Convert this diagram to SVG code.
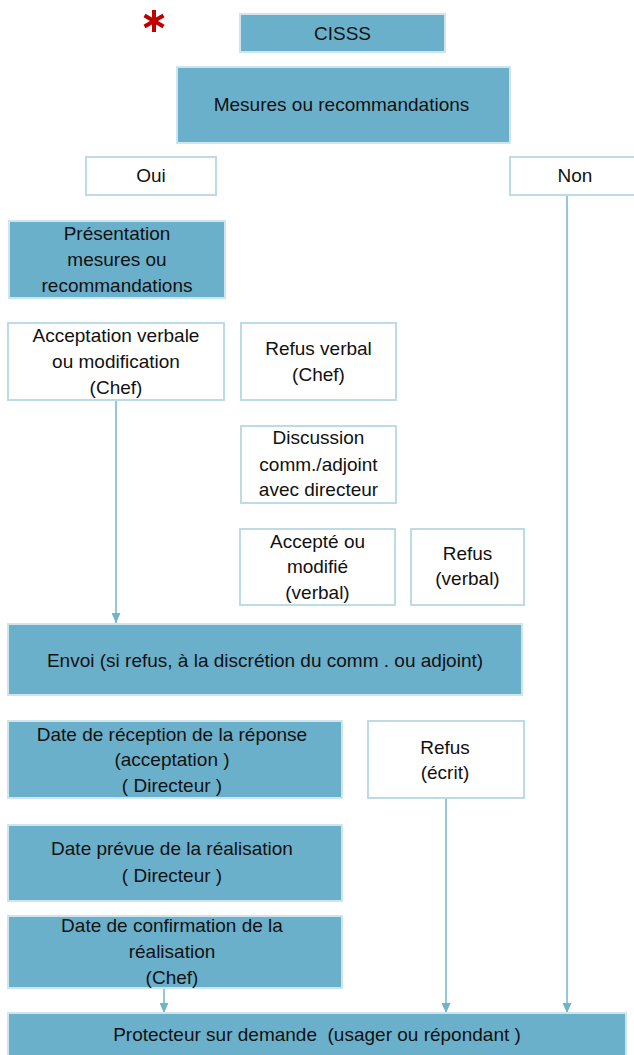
<svg xmlns="http://www.w3.org/2000/svg" width="634" height="1055" viewBox="0 0 634 1055">
<defs>
<style>
.f{fill:#6AB0CB;stroke:#CFE5EE;stroke-width:2}
.w{fill:#FFFFFF;stroke:#BCDBE6;stroke-width:2}
text{font-family:"Liberation Sans",Arial,sans-serif;font-size:19px;fill:#111;text-anchor:middle;dominant-baseline:central}
.c{stroke:#72B3CC;stroke-width:1.5;fill:none}
</style>
<marker id="ah" markerWidth="10" markerHeight="9" refX="10" refY="4.5" orient="auto" markerUnits="userSpaceOnUse">
<path d="M0,0 L10,4.5 L0,9 Z" fill="#72B3CC"/>
</marker>
</defs>
<rect width="634" height="1055" fill="#FFFFFF"/>
<g id="asterisk" stroke="#C00000" stroke-width="4" stroke-linecap="butt">
<line x1="154" y1="10" x2="154" y2="32"/>
<line x1="144.5" y1="15.5" x2="163.5" y2="26.5"/>
<line x1="144.5" y1="26.5" x2="163.5" y2="15.5"/>
</g>
<g id="connectors">
<line class="c" x1="116" y1="400" x2="116" y2="623" marker-end="url(#ah)"/>
<line class="c" x1="567" y1="195" x2="567" y2="1013" marker-end="url(#ah)"/>
<line class="c" x1="446" y1="798" x2="446" y2="1013" marker-end="url(#ah)"/>
<line class="c" x1="164" y1="988" x2="164" y2="1013" marker-end="url(#ah)"/>
</g>
<g id="cisss"><rect class="f" x="240" y="14" width="205" height="38"/><text x="342.5" y="33">CISSS</text></g>
<g id="mesures"><rect class="f" x="177" y="67" width="333" height="76"/><text x="341.5" y="104">Mesures ou recommandations</text></g>
<g id="oui"><rect class="w" x="86" y="157" width="130" height="38"/><text x="151" y="175">Oui</text></g>
<g id="non"><rect class="w" x="510" y="157" width="130" height="38"/><text x="575" y="175">Non</text></g>
<g id="presentation"><rect class="f" x="9" y="221" width="216" height="77"/>
<text x="117" y="233">Présentation</text><text x="117" y="259">mesures ou</text><text x="117" y="285">recommandations</text></g>
<g id="acceptation"><rect class="w" x="8" y="323" width="216" height="77"/>
<text x="116" y="335">Acceptation verbale</text><text x="116" y="361">ou modification</text><text x="116" y="387">(Chef)</text></g>
<g id="refus-verbal"><rect class="w" x="241" y="323" width="155" height="77"/>
<text x="318.5" y="348">Refus verbal</text><text x="318.5" y="374">(Chef)</text></g>
<g id="discussion"><rect class="w" x="241" y="426" width="155" height="77"/>
<text x="318.5" y="437">Discussion</text><text x="318.5" y="464">comm./adjoint</text><text x="318.5" y="489">avec directeur</text></g>
<g id="accepte"><rect class="w" x="240" y="529" width="155" height="76"/>
<text x="317.5" y="541">Accepté ou</text><text x="317.5" y="566">modifié</text><text x="317.5" y="592">(verbal)</text></g>
<g id="refus-verbal2"><rect class="w" x="411" y="529" width="113" height="76"/>
<text x="467.5" y="553">Refus</text><text x="467.5" y="578">(verbal)</text></g>
<g id="envoi"><rect class="f" x="8" y="624" width="514" height="71"/>
<text x="265" y="660">Envoi (si refus, à la discrétion du comm . ou adjoint)</text></g>
<g id="date-reception"><rect class="f" x="8" y="721" width="334" height="77"/>
<text x="172" y="734">Date de réception de la réponse</text><text x="172" y="759">(acceptation )</text><text x="172" y="785">( Directeur )</text></g>
<g id="refus-ecrit"><rect class="w" x="368" y="721" width="156" height="77"/>
<text x="445" y="747">Refus</text><text x="445" y="772">(écrit)</text></g>
<g id="date-prevue"><rect class="f" x="8" y="825" width="334" height="76"/>
<text x="172" y="848">Date prévue de la réalisation</text><text x="172" y="875">( Directeur )</text></g>
<g id="date-confirmation"><rect class="f" x="8" y="916" width="334" height="72"/>
<text x="172" y="925">Date de confirmation de la</text><text x="172" y="951">réalisation</text><text x="172" y="977">(Chef)</text></g>
<g id="protecteur"><rect class="f" x="8" y="1013" width="618" height="50"/>
<text x="317" y="1034" xml:space="preserve">Protecteur sur demande  (usager ou répondant )</text></g>
</svg>
